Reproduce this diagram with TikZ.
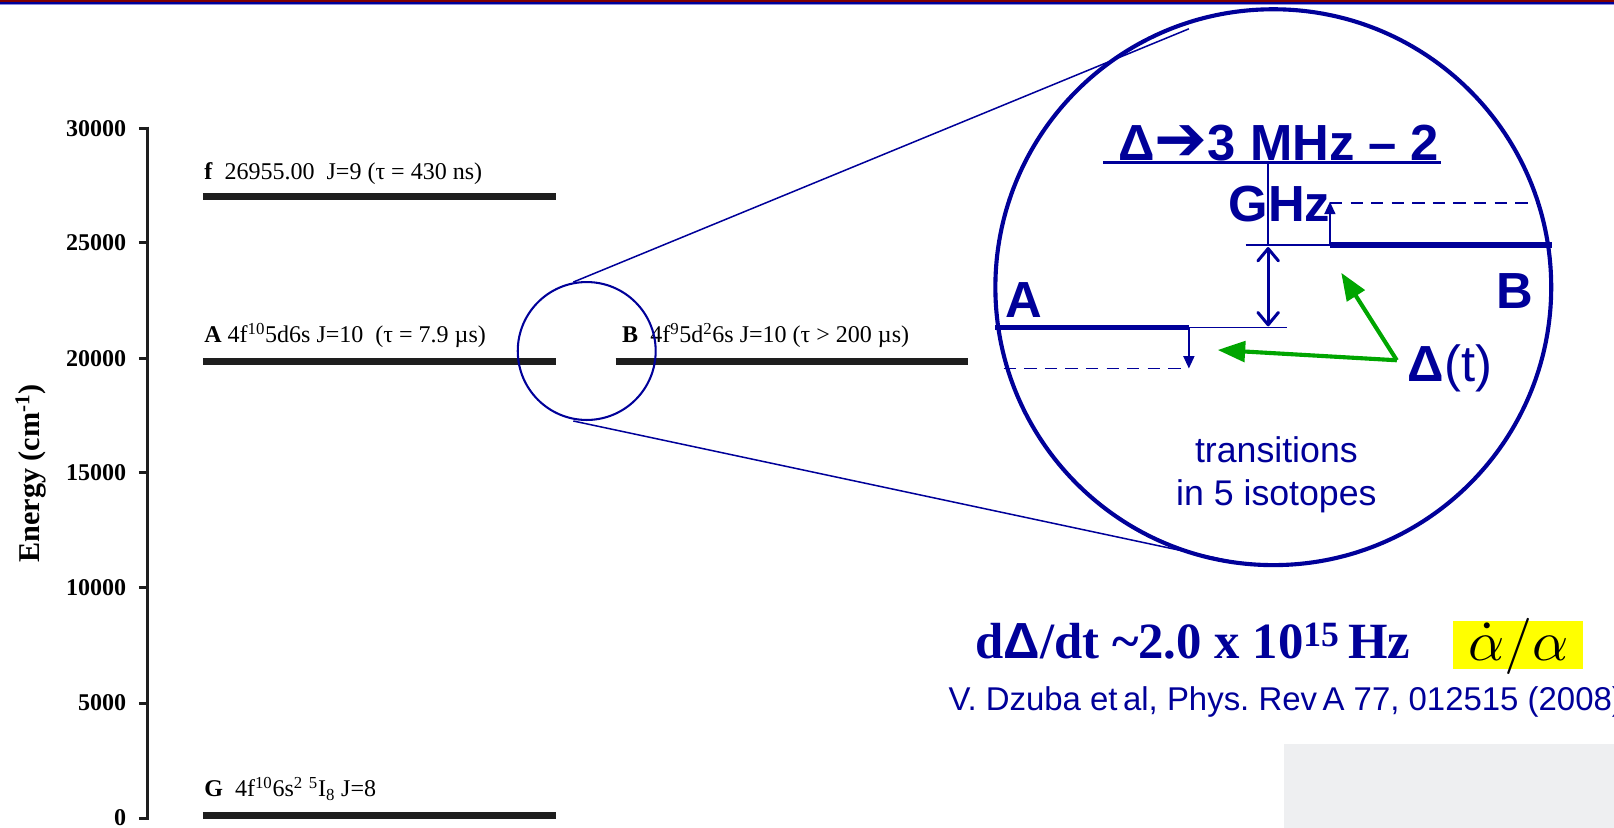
\documentclass[tikz,border=0pt]{standalone}
\usepackage{fontspec}
\setmainfont{Liberation Serif}
\setsansfont{Liberation Sans}
\newfontfamily\symbfont{DejaVu Sans}
\usetikzlibrary{arrows.meta}
\definecolor{navy}{RGB}{0,0,153}
\definecolor{slidered}{RGB}{128,0,0}
\definecolor{slideblue}{RGB}{140,140,220}
\definecolor{pointgreen}{RGB}{0,165,0}
\definecolor{levelgray}{RGB}{30,30,30}
\definecolor{panelgray}{RGB}{238,239,241}
\definecolor{markyellow}{RGB}{255,255,0}

\tikzset{every picture/.style={line width=0.75pt}}
\tikzset{
  levelbar/.style={line width=5.25pt,color=levelgray},
  ticklabel/.style={anchor=east,inner sep=0.75pt,font=\fontsize{17.5}{20}\selectfont\bfseries},
  levellabel/.style={anchor=base west,inner sep=0.75pt,font=\fontsize{17.5}{20}\selectfont},
  zoomtext/.style={inner sep=0.75pt,text=navy,font=\fontsize{37}{40}\selectfont\sffamily\bfseries},
  thinlevel/.style={navy,line width=1.2pt},
  thicklevel/.style={navy,line width=3.75pt},
  shiftarrow/.style={navy,line width=1.2pt,-{Triangle[length=9pt,width=8pt]}},
  pointer/.style={pointgreen,line width=3pt,-{Triangle[length=20pt,width=15pt]}},
}

\begin{document}
\begin{tikzpicture}[x=0.75pt,y=0.75pt,yscale=-1,xscale=1]
\useasboundingbox (0,0) rectangle (1568,804);

%Slide bars
\fill[slidered] (0,0) rectangle (1568,2.2);
\fill[navy] (0,2.2) rectangle (1568,4);
\fill[slideblue] (0,4) rectangle (1568,5);

%Shape: Rectangle
\fill[panelgray] (1247,723) rectangle (1568,804);

%Straight Lines: axis
\draw[levelgray,line width=2.25pt] (143,123) -- (143,797);
\draw[levelgray,line width=2.25pt] (135,125) -- (143,125);
\draw[levelgray,line width=2.25pt] (135,236) -- (143,236);
\draw[levelgray,line width=2.25pt] (135,348) -- (143,348);
\draw[levelgray,line width=2.25pt] (135,459) -- (143,459);
\draw[levelgray,line width=2.25pt] (135,571) -- (143,571);
\draw[levelgray,line width=2.25pt] (135,683) -- (143,683);
\draw[levelgray,line width=2.25pt] (135,795) -- (143,795);

% Text Node
\node[ticklabel] (t30) at (124,125) {30000};
\node[ticklabel] (t25) at (124,236) {25000};
\node[ticklabel] (t20) at (124,348) {20000};
\node[ticklabel] (t15) at (124,459) {15000};
\node[ticklabel] (t10) at (124,571) {10000};
\node[ticklabel] (t05) at (124,683) {5000};
\node[ticklabel] (t00) at (124,794) {0};
% Text Node
\node[rotate=90,inner sep=0.75pt,font=\fontsize{22}{24}\selectfont\bfseries] (ytitle) at (30,460) {Energy (cm\textsuperscript{-1})};

%Straight Lines: levels
\draw[levelbar] (197,191) -- (540,191);
\draw[levelbar] (197,351) -- (540,351);
\draw[levelbar] (598,351) -- (940,351);
\draw[levelbar] (197,792) -- (540,792);

% Text Node
\node[levellabel] (flab) at (197,174) {\textbf{f}\ \ 26955.00\ \ J=9 (τ = 430 ns)};
% Text Node
\node[levellabel] (alab) at (197,333) {\textbf{A} 4f\textsuperscript{10}5d6s J=10\ \ (τ = 7.9 µs)};
% Text Node
\node[levellabel] (blab) at (603,333) {\textbf{B}\ \ 4f\textsuperscript{9}5d\textsuperscript{2}6s J=10 (τ > 200 µs)};
% Text Node
\node[levellabel] (glab) at (197,774) {\textbf{G}\ \ 4f\textsuperscript{10}6s\textsuperscript{2} \textsuperscript{5}I\textsubscript{8} J=8};

%Shape: Circle
\draw[navy,line width=1.5pt] (570,341) circle [radius=67];
\draw[navy,line width=3pt] (1237,279) circle [radius=270];
\coordinate (stop) at (557,274);
\coordinate (sbot) at (557,409);
\coordinate (btop) at (1155,28);
\coordinate (bbot) at (1195,545);
%Straight Lines
\draw[navy,line width=1.1pt] (stop) -- (btop);
\draw[navy,line width=1.1pt] (sbot) -- (bbot);

%Levels in the zoom
\coordinate (aend) at (1155,318);
\coordinate (bend) at (1292,238);
\draw[thicklevel] (967,318) -- (aend);
\draw[thinlevel] (aend) -- (1250,318);
\draw[thicklevel] (bend) -- (1508,238);
\draw[thinlevel] (1210,238) -- (bend);
\draw[thinlevel,dash pattern=on 9pt off 6pt] (975,358) -- (1150,358);
\draw[thinlevel,dash pattern=on 9pt off 6pt] (1292,197) -- (1495,197);
\draw[shiftarrow] (aend) -- (1155,358);
\draw[shiftarrow] (bend) -- (1292,196);
\draw[thinlevel] (1232,158) -- (1232,238);
\coordinate (gapt) at (1232,240);
\coordinate (gapb) at (1232,317);
\draw[navy,line width=2.2pt,{Straight Barb[length=9pt,width=15pt,round]}-{Straight Barb[length=9pt,width=15pt,round]}] (gapt) -- (gapb);
%Underline
\draw[navy,line width=1.8pt] (1072,158) -- (1400,158);

% Text Node
\node[zoomtext,anchor=base west] (headlab) at (1085,156) {Δ{\symbfont\fontsize{46}{46}\selectfont ➔}3 MHz – 2};
\node[zoomtext,anchor=base west] (ghzlab) at (1192,215) {GHz};
\node[zoomtext,anchor=base west] (alet) at (975,308) {A};
\node[zoomtext,anchor=base west] (blet) at (1452,300) {B};
\node[zoomtext,anchor=base west] (dtlab) at (1366,371) {Δ\mdseries(t)};

%Green pointers
\coordinate (pfoot) at (1357,350);
\draw[pointer] (pfoot) -- (1183,340);
\draw[pointer] (pfoot) -- (1303,265);

% Text Node
\node[inner sep=0.75pt,text=navy,align=center,font=\fontsize{26}{31.5}\selectfont\sffamily] (translab) at (1240,461) {transitions\\in 5 isotopes};

% Text Node
\node[anchor=base west,inner sep=0.75pt,text=navy,font=\fontsize{37}{40}\selectfont\bfseries] (ratelab) at (946,640) {d{\sffamily Δ}/dt \textasciitilde2.0 x 10\textsuperscript{15}\,Hz};
%Shape: Rectangle
\fill[markyellow] (1412,603) rectangle (1538,650);
\node[inner sep=0pt] (alphalab) at (1475,628) {\scalebox{4.1}{$\dot{\alpha}/\alpha$}};
% Text Node
\node[anchor=base west,inner sep=0.75pt,text=navy,font=\fontsize{24}{26}\selectfont\sffamily] (citelab) at (920,690) {V.\ Dzuba et\,al, Phys.\ Rev\,A 77, 012515 (2008)};

\end{tikzpicture}
\end{document}
